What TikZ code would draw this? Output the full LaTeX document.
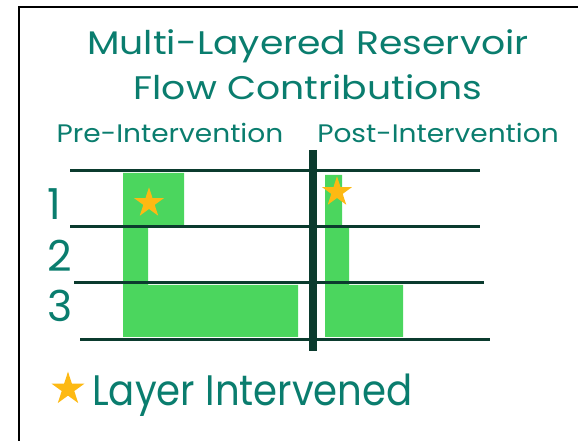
\documentclass[tikz,border=0pt]{standalone}
\usepackage{graphicx}
\usepackage{fontspec}
\setmainfont{Poppins}
\usetikzlibrary{shapes.geometric}

\definecolor{tealtext}{HTML}{0A7D6E}
\definecolor{flowgreen}{HTML}{4BD65E}
\definecolor{darkline}{HTML}{0B3B2E}
\definecolor{staramber}{HTML}{FDB913}

\begin{document}
\begin{tikzpicture}[x=0.75pt, y=-0.75pt,
    heading/.style={text=tealtext, font=\fontsize{24.5}{28}\selectfont, inner sep=0pt},
    subheading/.style={text=tealtext, font=\fontsize{19}{22}\selectfont, inner sep=0pt},
    layernum/.style={text=tealtext, font=\fontsize{32}{36}\selectfont, inner sep=0pt},
    layerline/.style={draw=darkline, line width=2.25pt},
    flow/.style={fill=flowgreen},
    marker/.style={star, star points=5, star point ratio=2.618, fill=staramber, inner sep=0pt, minimum size=#1}]

    \useasboundingbox (0,0) rectangle (578,441);
    \draw [line width=2pt] (19,441) -- (19,7) -- (578,7);

    % titles
    \node [heading, anchor=base] (title1) at (308,55) {\scalebox{1.155}[1]{Multi-Layered Reservoir}};
    \node [heading, anchor=base] (title2) at (308,100) {\scalebox{1.155}[1]{Flow Contributions}};
    \node [subheading, anchor=base] (pre) at (170,143) {\scalebox{1.107}[1]{Pre-Intervention}};
    \node [subheading, anchor=base] (post) at (438,143) {\scalebox{1.107}[1]{Post-Intervention}};

    % flow bars
    \fill [flow] (123,173) -- (184,173) -- (184,226) -- (148,226) -- (148,285) -- (298,285) -- (298,337) -- (123,337) -- cycle;
    \fill [flow] (325,175) -- (342,175) -- (342,226) -- (349,226) -- (349,285) -- (403,285) -- (403,337) -- (325,337) -- cycle;

    \foreach \y/\a/\b in {171/70/480, 227/70/480, 283/74/484, 340/80/490}
    {
        \draw [layerline] (\a,\y) -- (\b,\y);
    }
    \draw [draw=darkline, line width=6pt] (313,150) -- (313,351);

    \foreach \n/\y in {1/220, 2/272, 3/322}
    {
        \node [layernum, anchor=base west] (num\n) at (47,\y) {\n};
    }

    \node [marker=23.6pt] (starpre) at (149,203) {};
    \node [marker=23.6pt] (starpost) at (337,192) {};

    % legend
    \node [marker=26pt] (starkey) at (68,389) {};
    \node [layernum, anchor=base west] (key) at (92,405) {\scalebox{0.906}[1]{Layer Intervened}};
\end{tikzpicture}
\end{document}
